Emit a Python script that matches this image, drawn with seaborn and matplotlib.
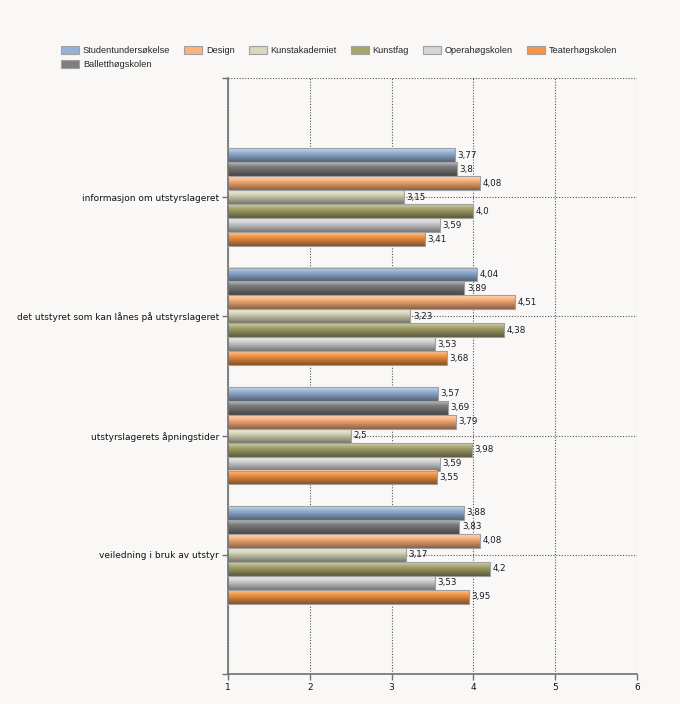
import numpy as np
import pandas as pd
import matplotlib
matplotlib.use("Agg")
import matplotlib.pyplot as plt
import matplotlib.colors as mcolors
import seaborn as sns
from matplotlib.patches import Patch

categories = [
    "informasjon om utstyrslageret",
    "det utstyret som kan lånes på utstyrslageret",
    "utstyrslagerets åpningstider",
    "veiledning i bruk av utstyr",
]
series = ["Studentundersøkelse", "Balletthøgskolen", "Design", "Kunstakademiet",
          "Kunstfag", "Operahøgskolen", "Teaterhøgskolen"]
studentundersokelse = [3.77, 4.04, 3.57, 3.88]
balletthogskolen = [3.8, 3.89, 3.69, 3.83]
design = [4.08, 4.51, 3.79, 4.08]
kunstakademiet = [3.15, 3.23, 2.5, 3.17]
kunstfag = [4.0, 4.38, 3.98, 4.2]
operahogskolen = [3.59, 3.53, 3.59, 3.53]
teaterhogskolen = [3.41, 3.68, 3.55, 3.95]
colors = ["#95b3d7", "#7f7f7f", "#fdb27c", "#d8d8bc", "#a8a56c", "#d5d5d5", "#f79646"]
xticks = [1, 2, 3, 4, 5, 6]

values = [studentundersokelse, balletthogskolen, design, kunstakademiet,
          kunstfag, operahogskolen, teaterhogskolen]
rows = []
for s, vals in zip(series, values):
    for c, v in zip(categories, vals):
        rows.append({"kategori": c, "serie": s, "verdi": v})
df = pd.DataFrame(rows)

sns.set_theme(style="white")
plt.rcParams["font.family"] = ["DejaVu Sans"]
bg = "#f9f8f7"
fig = plt.figure(figsize=(6.8, 7.04), dpi=100, facecolor=bg)
ax = fig.add_axes([228/680, 1-674/704, (637-228)/680, (674-78)/704])
ax.set_facecolor(bg)

sns.barplot(data=df, y="kategori", x="verdi", hue="serie", hue_order=series,
            order=categories, palette=colors, orient="h", width=0.82,
            ax=ax, legend=False, saturation=1)

def grad_img(c):
    rgb = np.array(mcolors.to_rgb(c))
    n = 32
    t = np.linspace(0, 1, n)
    out = []
    for ti in t:
        if ti < 0.3:
            f = ti / 0.3
            col = (1 - f) * (0.5 * rgb + 0.5) + f * rgb
        else:
            f = (ti - 0.3) / 0.7
            col = (1 - f) * rgb + f * (rgb * 0.55)
        out.append(col)
    return np.array(out).reshape(n, 1, 3)

for cont, col in zip(ax.containers, colors):
    img = grad_img(col)
    for p, v in zip(cont.patches, cont.datavalues):
        x0, y0 = p.get_x(), p.get_y()
        w, h = p.get_width(), p.get_height()
        ax.imshow(img, extent=[x0, x0 + w, y0 + h, y0], origin="upper",
                  aspect="auto", zorder=2, interpolation="bilinear")
        p.set_facecolor("none")
        p.set_edgecolor("#a0a0a0")
        p.set_linewidth(0.8)
        p.set_zorder(3)
        ax.text(v + 0.03, y0 + h / 2, str(v).replace(".", ","), va="center",
                ha="left", fontsize=6.3, color="#1a1a2a", zorder=4)

ax.set_xlim(1, 6)
ax.set_ylim(4, -1)
ax.set_xticks(xticks)
ax.set_xticklabels([str(t) for t in xticks])
ax.set_yticks([-1, 0, 1, 2, 3, 4])
ax.set_yticklabels([""] + categories + [""])
ax.set_xlabel("")
ax.set_ylabel("")
ax.grid(True, axis="both", linestyle=(0, (1, 1.5)), color="#555555", linewidth=0.8, zorder=1)
ax.set_axisbelow(True)
for s in ["top", "right"]:
    ax.spines[s].set_visible(False)
for s in ["left", "bottom"]:
    ax.spines[s].set_color("#707070")
    ax.spines[s].set_linewidth(1.2)
ax.tick_params(axis="both", direction="out", length=4.5, width=1, color="#707070",
               labelsize=6.5, labelcolor="#111111", pad=2, left=True, bottom=True)

handles = [Patch(facecolor=c, edgecolor="#a0a0a0", linewidth=0.8, label=s)
           for s, c in zip(series, colors)]
fig.legend(handles=handles, ncol=6, loc="upper left", bbox_to_anchor=(61/680, 1-46/704),
           frameon=False, prop={"family": "Liberation Sans", "size": 6.6},
           handlelength=2.0, handleheight=1.0,
           handletextpad=0.4, columnspacing=1.5, labelspacing=0.5, borderpad=0,
           borderaxespad=0)

fig.savefig("out.png", dpi=100, facecolor=bg)
